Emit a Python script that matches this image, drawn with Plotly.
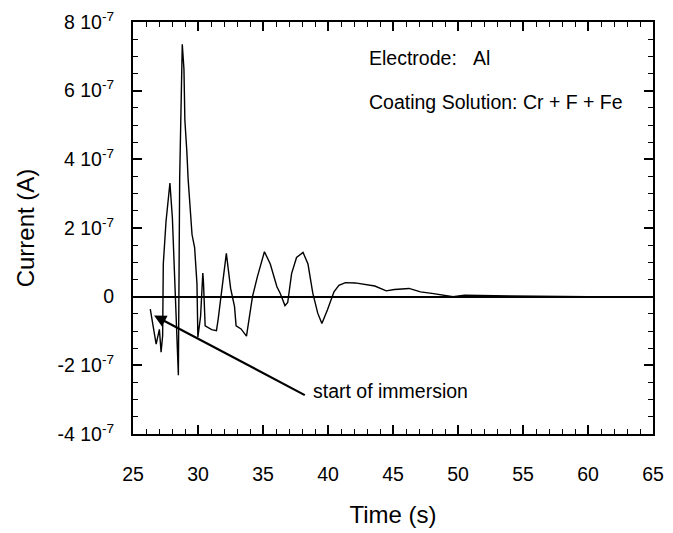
import plotly.graph_objects as go

# Time (s) and current (units of 1e-7 A)
time_s = [26.33, 26.78, 27.03, 27.16, 27.28, 27.33, 27.54, 27.84, 28.03, 28.24,
          28.34, 28.49, 28.59, 28.79, 28.92, 28.99, 29.14, 29.24, 29.54, 29.74,
          29.92, 29.99, 30.20, 30.37, 30.42, 30.55, 31.05, 31.42, 31.55, 31.85,
          32.18, 32.51, 32.81, 32.93, 33.31, 33.73, 34.19, 34.56, 35.11, 35.56,
          36.07, 36.32, 36.69, 36.90, 37.20, 37.58, 38.08, 38.46, 38.83, 39.21,
          39.53, 39.96, 40.46, 40.84, 41.34, 42.09, 42.72, 43.60, 44.48, 45.11,
          46.23, 47.12, 48.12, 48.87, 49.62, 50.50, 51.50, 52.50, 54.00, 56.00,
          58.00, 60.00]
current_e7 = [-0.36, -1.38, -0.95, -1.62, -1.14, 0.95, 2.19, 3.31, 2.29, 0.09,
              -0.66, -2.29, 3.43, 7.35, 6.62, 5.14, 4.24, 3.43, 1.81, 1.43,
              0.38, -1.18, -0.57, 0.69, 0.43, -0.85, -0.96, -0.99, -0.66, 0.29,
              1.26, 0.24, -0.29, -0.85, -0.94, -1.15, 0.00, 0.57, 1.31, 0.95,
              0.29, 0.10, -0.26, -0.17, 0.67, 1.14, 1.29, 0.95, 0.10, -0.48,
              -0.78, -0.38, 0.14, 0.33, 0.41, 0.40, 0.36, 0.31, 0.17, 0.21,
              0.24, 0.14, 0.09, 0.05, 0.00, 0.04, 0.03, 0.02, 0.02, 0.01,
              0.00, 0.00]
current_a = [v * 1e-7 for v in current_e7]

x_tick_vals = [25, 30, 35, 40, 45, 50, 55, 60, 65]
y_tick_vals = [-4e-7, -2e-7, 0, 2e-7, 4e-7, 6e-7, 8e-7]
y_tick_text = ["-4 10<sup>-7</sup>", "-2 10<sup>-7</sup>", "0",
               "2 10<sup>-7</sup>", "4 10<sup>-7</sup>", "6 10<sup>-7</sup>",
               "8 10<sup>-7</sup>"]

FONT = "Liberation Sans, Arial, sans-serif"

fig = go.Figure()
fig.add_trace(go.Scatter(x=time_s, y=current_a, mode="lines",
                         line=dict(color="black", width=1.4),
                         showlegend=False, hoverinfo="skip"))

fig.update_layout(
    width=673, height=533, autosize=False,
    margin=dict(l=133, r=9, t=20, b=93),
    paper_bgcolor="white", plot_bgcolor="white",
    font=dict(family=FONT, color="black", size=19.5),
    xaxis=dict(range=[25, 65], tickvals=x_tick_vals, ticks="inside", ticklen=9,
               tickwidth=1.5, tickcolor="black", showline=True, linecolor="black",
               linewidth=2, mirror="ticks", showgrid=False, zeroline=False,
               ticklabelstandoff=22, tickfont=dict(size=19.5),
               minor=dict(dtick=1, ticks="inside", ticklen=5, tickwidth=1.3,
                          tickcolor="black", showgrid=False),
               title=dict(text="Time (s)", font=dict(size=24), standoff=22)),
    yaxis=dict(range=[-4e-7, 8e-7], tickvals=y_tick_vals, ticktext=y_tick_text,
               ticks="inside", ticklen=9, tickwidth=1.5, tickcolor="black",
               showline=True, linecolor="black", linewidth=2, mirror="ticks",
               showgrid=False, zeroline=True, zerolinecolor="black",
               zerolinewidth=1.6, ticklabelstandoff=13, tickfont=dict(size=19.5),
               minor=dict(dtick=0.5e-7, tick0=0, ticks="inside", ticklen=5,
                          tickwidth=1.3, tickcolor="black", showgrid=False),
               title=dict(text="Current (A)", font=dict(size=24), standoff=16)),
)

fig.add_annotation(x=38.7, y=-2.74e-7, xref="x", yref="y", text="start of immersion",
                   showarrow=False, xanchor="left", yanchor="middle",
                   font=dict(size=19.5))
fig.add_annotation(x=26.62, y=-0.55e-7, ax=38.33, ay=-2.89e-7, xref="x", yref="y",
                   axref="x", ayref="y", text="", showarrow=True, arrowhead=2,
                   arrowsize=1.1, arrowwidth=2.2, arrowcolor="black")
fig.add_annotation(x=43.0, y=6.94e-7, xref="x", yref="y",
                   text="Electrode:\u00a0\u00a0\u00a0Al", showarrow=False,
                   xanchor="left", yanchor="middle", font=dict(size=19.5))
fig.add_annotation(x=43.0, y=5.66e-7, xref="x", yref="y",
                   text="Coating Solution: Cr + F + Fe", showarrow=False,
                   xanchor="left", yanchor="middle", font=dict(size=19.5))

fig.write_html("out.html", config={"displayModeBar": False},
               post_script="document.body.style.margin='0';"
                           "document.body.style.overflow='hidden';")
